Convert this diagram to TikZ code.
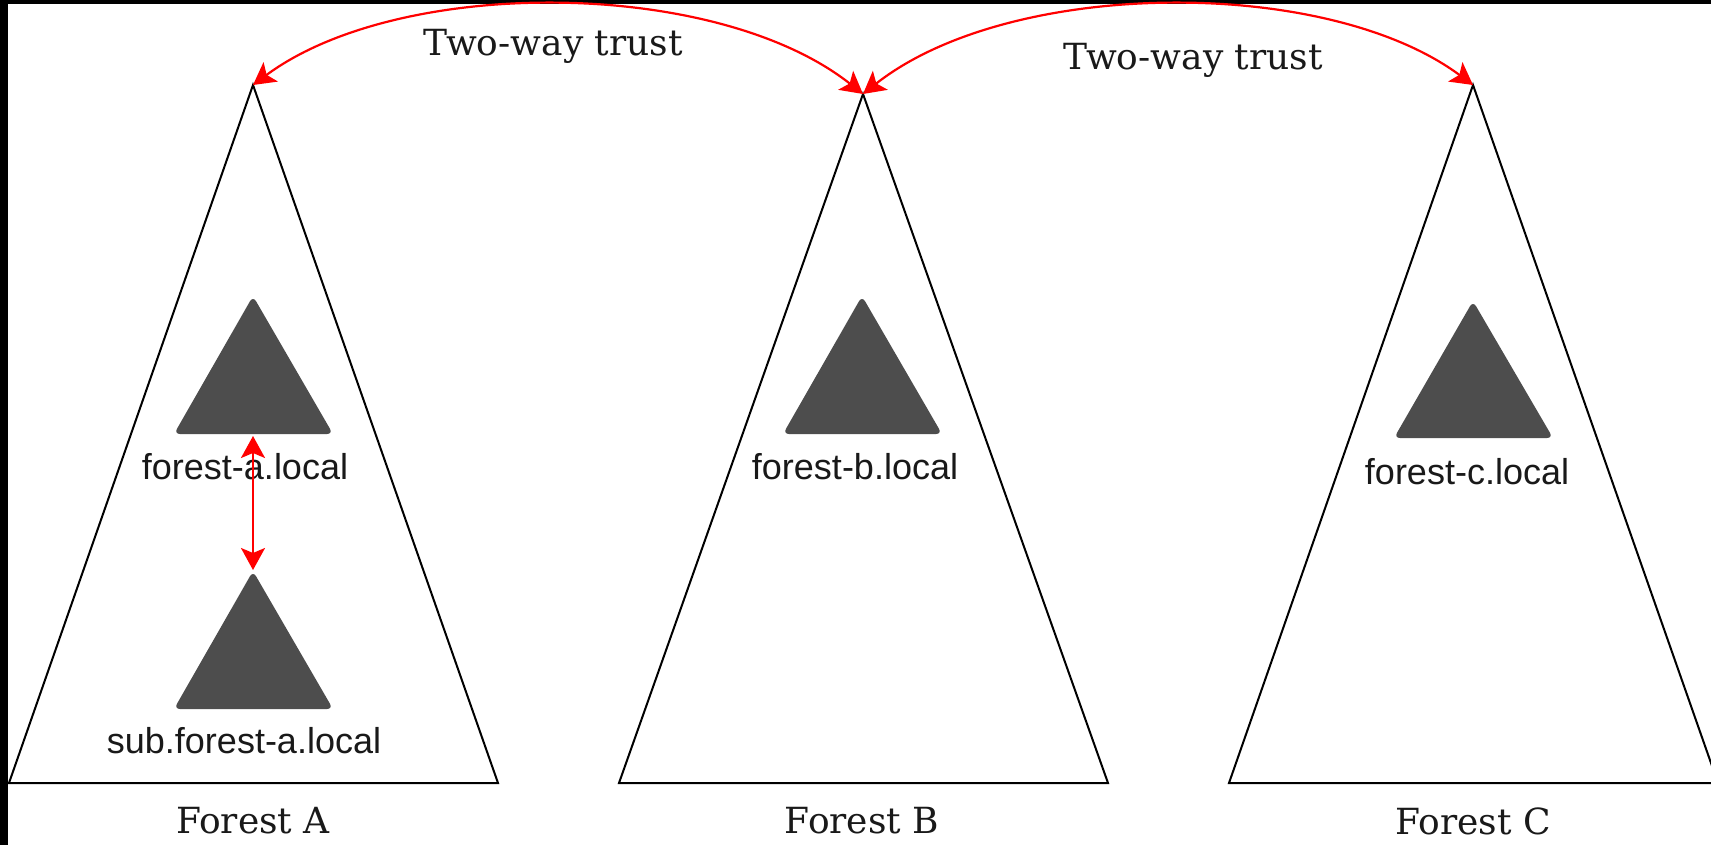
\documentclass[tikz,border=0pt]{standalone}
\usepackage{fontspec}
\setmainfont{DejaVu Serif}
\newfontfamily\labelfont{Liberation Sans}
\usetikzlibrary{arrows.meta}
\definecolor{domgray}{HTML}{4D4D4D}
\tikzset{
  forestbox/.style={draw=black, line width=2pt, line join=miter},
  dombox/.style={fill=domgray, rounded corners=6pt},
  domlabel/.style={font=\labelfont\fontsize{36}{40}\selectfont, inner sep=0pt, text=black!90},
  forestlabel/.style={font=\fontsize{36}{40}\selectfont, inner sep=0pt, text=black!90},
  trustline/.style={draw=red, line width=2.2pt, {Stealth[length=22pt,width=24pt,inset=5pt]}-{Stealth[length=22pt,width=24pt,inset=5pt]}},
  trustlabel/.style={font=\fontsize{36}{40}\selectfont, inner sep=0pt, text=black!90}
}
\begin{document}
\begin{tikzpicture}[x=1pt,y=-1pt]
\useasboundingbox (0,0) rectangle (1711,845);
\fill[black] (0,0) rectangle (1711,845);
\fill[white] (8,4) rectangle (1711,845);

% large forest triangles
\coordinate (apexA) at (253,85);
\coordinate (apexB) at (863,94);
\coordinate (apexC) at (1473,85);
\draw[forestbox] (apexA) -- (498,783) -- (9,783) -- cycle;
\draw[forestbox] (apexB) -- (1108,783) -- (619,783) -- cycle;
\draw[forestbox] (apexC) -- (1718,783) -- (1229,783) -- cycle;

% domain triangles
\fill[dombox] (253,296) -- (333,434) -- (174,434) -- cycle;
\fill[dombox] (253,571) -- (333,709) -- (174,709) -- cycle;
\fill[dombox] (862,296) -- (942,434) -- (783,434) -- cycle;
\fill[dombox] (1473,301) -- (1553,438) -- (1394,438) -- cycle;
\coordinate (domA) at (253,436);
\coordinate (subA) at (253,570);

% domain labels
\node[domlabel] (lblA) at (245,467) {forest-a.local};
\node[domlabel] (lblSub) at (244,741) {sub.forest-a.local};
\node[domlabel] (lblB) at (855,467) {forest-b.local};
\node[domlabel] (lblC) at (1467,472) {forest-c.local};

% forest labels
\node[forestlabel] (fA) at (253,821) {Forest A};
\node[forestlabel] (fB) at (862,821) {Forest B};
\node[forestlabel] (fC) at (1473,821) {Forest C};

% trusts
\draw[trustline] (apexA) .. controls (400,-24) and (716,-22) .. (apexB);
\draw[trustline] (apexB) .. controls (1010,-22) and (1326,-24) .. (apexC);
\draw[trustline] (domA) -- (subA);

\node[trustlabel] (t1) at (553,46) {Two-way trust};
\node[trustlabel] (t2) at (1193,60) {Two-way trust};
\end{tikzpicture}
\end{document}
